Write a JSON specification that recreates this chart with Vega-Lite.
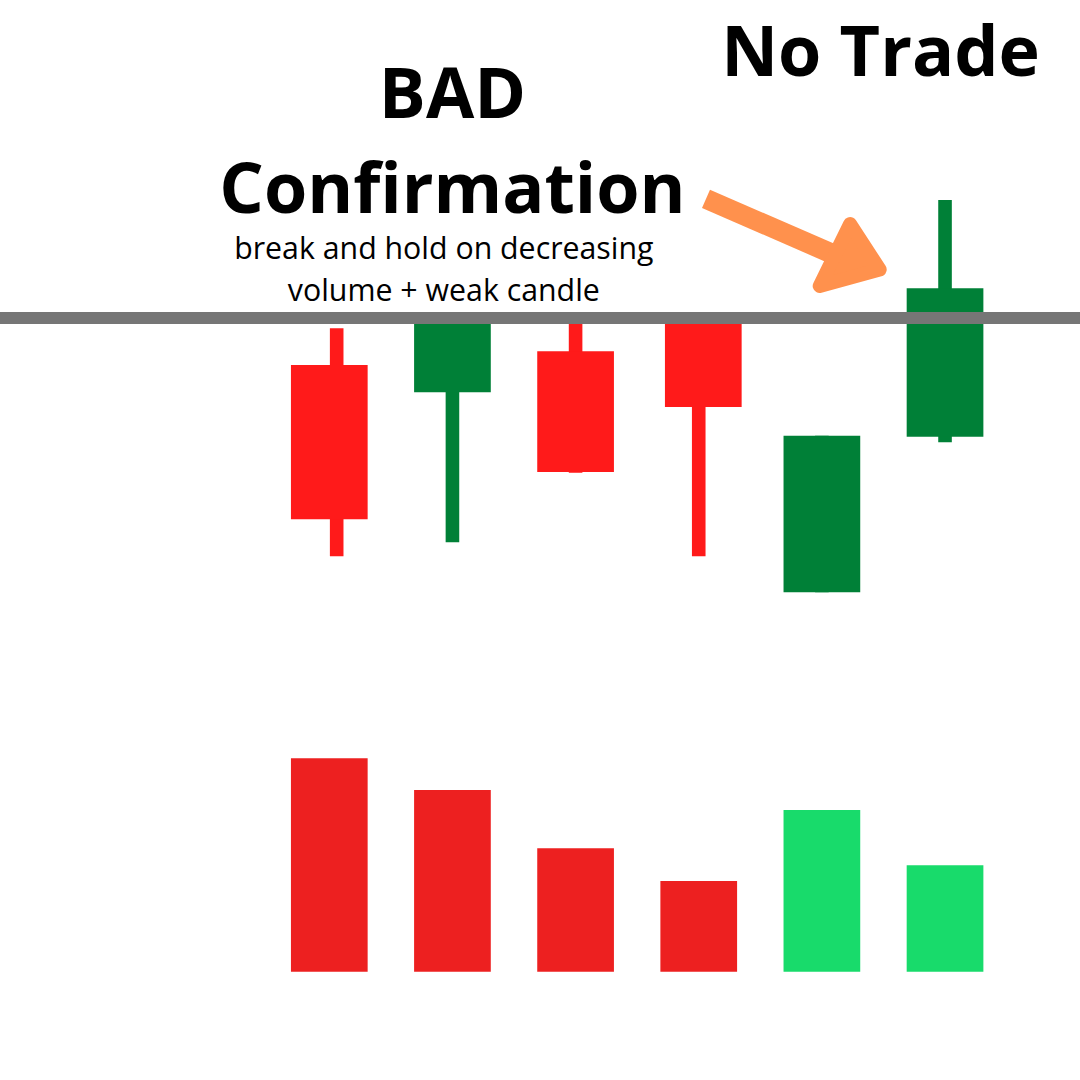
{
  "$schema": "https://vega.github.io/schema/vega-lite/v6.json",
  "width": 1080,
  "height": 1080,
  "autosize": {"type": "none"},
  "padding": 0,
  "background": "#ffffff",
  "config": {"view": {"stroke": null}, "scale": {"continuousPadding": 0}},
  "datasets": {
    "candles": [
      {"t": 1, "tw": 1.06, "dir": "down", "open": 95.3, "close": 79.87, "high": 98.97, "low": 76.17},
      {"t": 2, "tw": 2.0, "dir": "up", "open": 92.57, "close": 100.0, "high": 100.0, "low": 77.57},
      {"t": 3, "tw": 3.0, "dir": "down", "open": 96.67, "close": 84.6, "high": 100.0, "low": 84.53},
      {"t": 4.037, "tw": 4.0, "dir": "down", "open": 100.0, "close": 91.1, "high": 100.0, "low": 76.17},
      {"t": 5, "tw": 5.0, "dir": "up", "open": 72.57, "close": 88.23, "high": 88.23, "low": 72.57},
      {"t": 6, "tw": 6.0, "dir": "up", "open": 88.13, "close": 102.97, "high": 111.8, "low": 87.57}
    ],
    "volume": [
      {"t": 1, "dir": "down", "vol": 106.7},
      {"t": 2, "dir": "down", "vol": 90.85},
      {"t": 3, "dir": "down", "vol": 61.7},
      {"t": 4, "dir": "down", "vol": 45.35},
      {"t": 5, "dir": "up", "vol": 80.85},
      {"t": 6, "dir": "up", "vol": 53.2}
    ],
    "level": [
      {"level": 100}
    ],
    "shaft": [
      {"t": 4.059, "p": 111.92},
      {"t": 5.107, "p": 106.3}
    ],
    "head": [
      {"t": 5.229, "p": 106.0}
    ],
    "labels": [
      {"kind": "big", "text": "No Trade", "t": 5.476, "p": 124.2},
      {"kind": "big", "text": "BAD", "t": 2.0, "p": 120.0},
      {"kind": "big", "text": "Confirmation", "t": 2.0, "p": 110.5},
      {"kind": "small", "text": "break and hold on decreasing", "t": 1.93, "p": 105.95},
      {"kind": "small", "text": "volume + weak candle", "t": 1.93, "p": 101.75}
    ]
  },
  "resolve": {"scale": {"y": "independent", "color": "independent"}},
  "layer": [
    {
      "data": {"name": "volume"},
      "mark": {"type": "bar", "size": 76.7},
      "encoding": {
        "x": {"field": "t", "type": "quantitative", "scale": {"domain": [-1.674, 7.096], "nice": false, "zero": false, "padding": 0}, "axis": null},
        "y": {"field": "vol", "type": "quantitative", "scale": {"domain": [-54.15, 485.85], "nice": false, "zero": false, "padding": 0}, "axis": null},
        "y2": {"datum": 0},
        "color": {"field": "dir", "type": "nominal", "scale": {"domain": ["down", "up"], "range": ["#ed2020", "#18db6b"]}, "legend": null}
      }
    },
    {
      "data": {"name": "candles"},
      "mark": {"type": "bar", "size": 13.6},
      "encoding": {
        "x": {"field": "tw", "type": "quantitative", "scale": {"domain": [-1.674, 7.096], "nice": false, "zero": false, "padding": 0}, "axis": null},
        "y": {"field": "low", "type": "quantitative", "scale": {"domain": [23.8, 131.8], "nice": false, "zero": false, "padding": 0}, "axis": null},
        "y2": {"field": "high"},
        "color": {"field": "dir", "type": "nominal", "scale": {"domain": ["down", "up"], "range": ["#ff1a1a", "#008037"]}, "legend": null}
      }
    },
    {
      "data": {"name": "candles"},
      "mark": {"type": "bar", "size": 76.7},
      "encoding": {
        "x": {"field": "t", "type": "quantitative", "scale": {"domain": [-1.674, 7.096], "nice": false, "zero": false, "padding": 0}, "axis": null},
        "y": {"field": "open", "type": "quantitative", "scale": {"domain": [23.8, 131.8], "nice": false, "zero": false, "padding": 0}, "axis": null},
        "y2": {"field": "close"},
        "color": {"field": "dir", "type": "nominal", "scale": {"domain": ["down", "up"], "range": ["#ff1a1a", "#008037"]}, "legend": null}
      }
    },
    {
      "data": {"name": "level"},
      "mark": {"type": "rule", "color": "#767676", "strokeWidth": 12},
      "encoding": {
        "y": {"field": "level", "type": "quantitative", "scale": {"domain": [23.8, 131.8], "nice": false, "zero": false, "padding": 0}, "axis": null}
      }
    },
    {
      "data": {"name": "shaft"},
      "mark": {"type": "line", "color": "#ff914d", "strokeWidth": 20, "strokeCap": "butt"},
      "encoding": {
        "x": {"field": "t", "type": "quantitative", "scale": {"domain": [-1.674, 7.096], "nice": false, "zero": false, "padding": 0}, "axis": null},
        "y": {"field": "p", "type": "quantitative", "scale": {"domain": [23.8, 131.8], "nice": false, "zero": false, "padding": 0}, "axis": null}
      }
    },
    {
      "data": {"name": "head"},
      "mark": {"type": "point", "shape": "M0,-0.85L0.74,0.29L-0.76,0.7Z", "size": 6400, "filled": true, "fill": "#ff914d", "stroke": "#ff914d", "strokeWidth": 14, "strokeJoin": "round", "opacity": 1},
      "encoding": {
        "x": {"field": "t", "type": "quantitative", "scale": {"domain": [-1.674, 7.096], "nice": false, "zero": false, "padding": 0}, "axis": null},
        "y": {"field": "p", "type": "quantitative", "scale": {"domain": [23.8, 131.8], "nice": false, "zero": false, "padding": 0}, "axis": null}
      }
    },
    {
      "data": {"name": "labels"},
      "transform": [{"filter": "datum.kind === 'big'"}],
      "mark": {"type": "text", "font": "Open Sans", "fontWeight": "bold", "fontSize": 70, "align": "center", "baseline": "alphabetic", "color": "#000000"},
      "encoding": {
        "x": {"field": "t", "type": "quantitative", "scale": {"domain": [-1.674, 7.096], "nice": false, "zero": false, "padding": 0}, "axis": null},
        "y": {"field": "p", "type": "quantitative", "scale": {"domain": [23.8, 131.8], "nice": false, "zero": false, "padding": 0}, "axis": null},
        "text": {"field": "text"}
      }
    },
    {
      "data": {"name": "labels"},
      "transform": [{"filter": "datum.kind === 'small'"}],
      "mark": {"type": "text", "font": "Open Sans", "fontWeight": "normal", "fontSize": 30.3, "align": "center", "baseline": "alphabetic", "color": "#000000"},
      "encoding": {
        "x": {"field": "t", "type": "quantitative", "scale": {"domain": [-1.674, 7.096], "nice": false, "zero": false, "padding": 0}, "axis": null},
        "y": {"field": "p", "type": "quantitative", "scale": {"domain": [23.8, 131.8], "nice": false, "zero": false, "padding": 0}, "axis": null},
        "text": {"field": "text"}
      }
    }
  ]
}
